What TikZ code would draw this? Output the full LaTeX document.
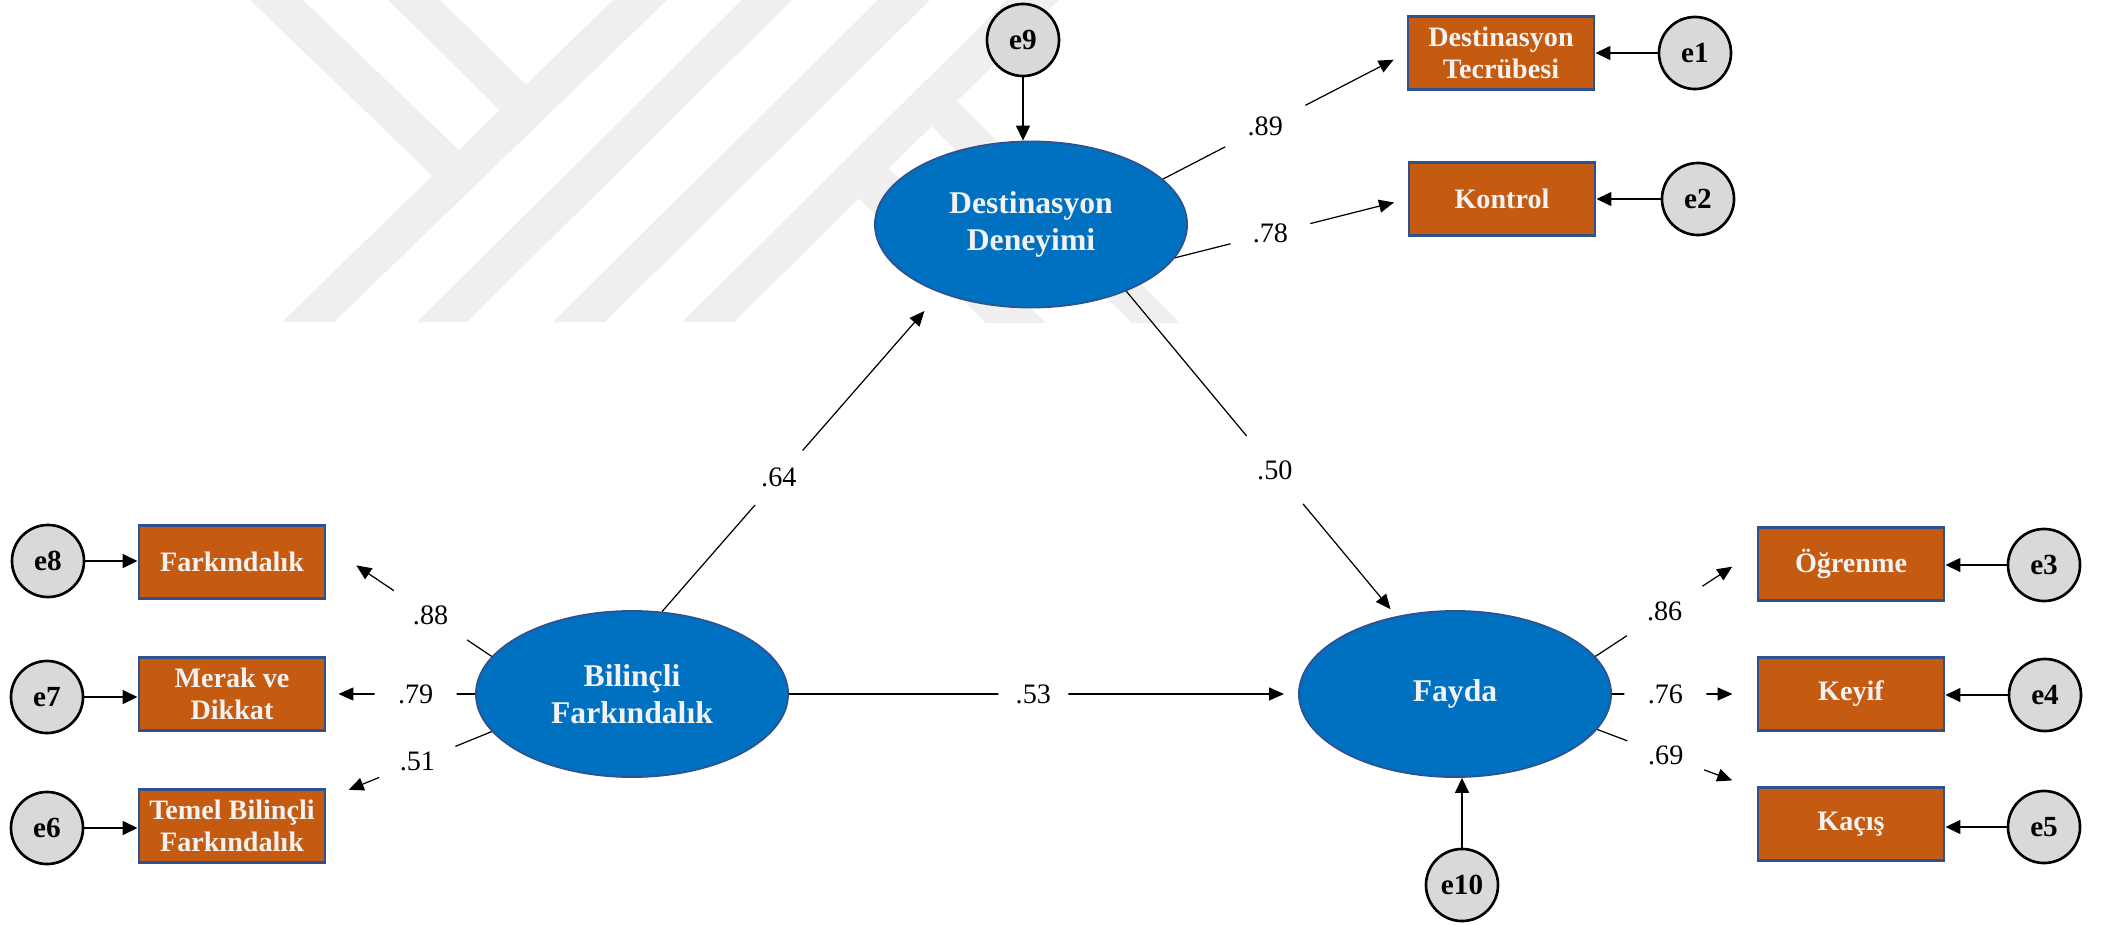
\documentclass[tikz,border=0pt]{standalone}
\usepackage{fontspec}
\setmainfont{Liberation Serif}
\usetikzlibrary{arrows.meta,shapes.geometric}

\definecolor{latentblue}{HTML}{0070C0}
\definecolor{latentedge}{HTML}{2F528F}
\definecolor{boxorange}{HTML}{C55A11}
\definecolor{boxedge}{HTML}{2F528F}
\definecolor{errgray}{HTML}{D9D9D9}
\definecolor{marktext}{HTML}{F2F2F2}
\definecolor{wmgray}{HTML}{EFEFEF}

\begin{document}
\begin{tikzpicture}[x=0.01cm, y=-0.01cm,
  latent/.style={ellipse, draw=latentedge, line width=0.5pt, fill=latentblue,
    minimum width=3.12cm, minimum height=1.66cm, inner sep=0pt, align=center,
    text=marktext, font=\fontsize{9}{10.5}\selectfont\bfseries},
  indicator/.style={rectangle, draw=boxedge, line width=0.8pt, fill=boxorange,
    minimum width=1.86cm, minimum height=0.73cm, inner sep=0pt, align=center,
    text=marktext, font=\fontsize{8}{9.2}\selectfont\bfseries},
  errorterm/.style={circle, draw=black, line width=0.75pt, fill=errgray,
    minimum size=0.72cm, inner sep=0pt, font=\fontsize{8.3}{9}\selectfont\bfseries},
  loading/.style={draw=black, line width=0.35pt, -{Triangle[length=0.15cm,width=0.13cm]}},
  errlink/.style={draw=black, line width=0.45pt, -{Triangle[length=0.15cm,width=0.14cm]}},
  coef/.style={circle, fill=white, minimum size=0.82cm, inner sep=0pt,
    font=\fontsize{8}{9}\selectfont},
]
\useasboundingbox (0,0) rectangle (2103,924);

% faint striped emblem in the background
\begin{scope}
  \clip (0,0) rectangle (2103,322);
  \fill[wmgray] (250,0) -- (303,0) -- (466,157) -- (442,185) -- cycle;
  \fill[wmgray] (388,0) -- (440,0) -- (542,100) -- (515,125) -- cycle;
  \fill[wmgray] (282,322) -- (334,322) -- (667,0) -- (613,0) -- cycle;
  \fill[wmgray] (417,322) -- (467,322) -- (792,0) -- (742,0) -- cycle;
  \fill[wmgray] (553,322) -- (605,322) -- (930,0) -- (878,0) -- cycle;
  \fill[wmgray] (682,322) -- (734,322) -- (1059,0) -- (1007,0) -- cycle;
  \fill[wmgray] (944,88) -- (1187,330) -- (1139,330) -- (918,113) -- cycle;
  \fill[wmgray] (880,160) -- (1053,330) -- (993,330) -- (845,185) -- cycle;
\end{scope}

% latent constructs
\node[latent] (DD) at (1031,224.5) {Destinasyon\\Deneyimi};
\node[latent] (BF) at (632,694) {Bilinçli\\Farkındalık};
\node[latent] (FY) at (1455,694) {Fayda};

% observed indicators
\node[indicator] (DT) at (1501,53) {Destinasyon\\Tecrübesi};
\node[indicator] (KO) at (1502,199) {Kontrol};
\node[indicator] (FA) at (232,562) {Farkındalık};
\node[indicator] (MD) at (232,694) {Merak ve\\Dikkat};
\node[indicator] (TB) at (232,826) {Temel Bilinçli\\Farkındalık};
\node[indicator] (OG) at (1851,564) {Öğrenme};
\node[indicator] (KE) at (1851,694) {Keyif};
\node[indicator] (KA) at (1851,824) {Kaçış};

% error terms
\node[errorterm] (e1) at (1695,53) {e1};
\node[errorterm] (e2) at (1698,199) {e2};
\node[errorterm] (e3) at (2044,565) {e3};
\node[errorterm] (e4) at (2045,695) {e4};
\node[errorterm] (e5) at (2044,827) {e5};
\node[errorterm] (e6) at (47,828) {e6};
\node[errorterm] (e7) at (47,697) {e7};
\node[errorterm] (e8) at (48,561) {e8};
\node[errorterm] (e9) at (1023,40) {e9};
\node[errorterm] (e10) at (1462,885) {e10};

% error paths
\draw[errlink] (e1.west) -- (e1.west -| DT.east);
\draw[errlink] (e2.west) -- (e2.west -| KO.east);
\draw[errlink] (e3.west) -- (e3.west -| OG.east);
\draw[errlink] (e4.west) -- (e4.west -| KE.east);
\draw[errlink] (e5.west) -- (e5.west -| KA.east);
\draw[errlink] (e6.east) -- (e6.east -| TB.west);
\draw[errlink] (e7.east) -- (e7.east -| MD.west);
\draw[errlink] (e8.east) -- (e8.east -| FA.west);
\draw[errlink] (e9.south) -- (e9.south |- DD.north);
\draw[errlink] (e10.north) -- (e10.north |- FY.south);

% structural paths
\draw[loading, shorten >=0.24cm] (BF.70) -- node[coef, minimum size=0.72cm, pos=0.42] {.64} (DD.217);
\draw[loading, shorten >=0.09cm] (DD.325) -- node[coef, minimum size=0.88cm, pos=0.55] {.50} (FY.127);
\draw[loading, shorten >=0.14cm] (BF.east) -- node[coef, minimum size=0.70cm, pos=0.48] {.53} (FY.west);

% measurement loadings
\draw[loading, shorten >=0.145cm] (DD.19) -- node[coef, minimum size=0.9cm, pos=0.42] {.89} (DT.west);
\draw[loading, shorten >=0.14cm] (DD.347) -- node[coef, pos=0.41] {.78} (KO.west);
\draw[loading, shorten >=0.36cm] (BF.165) -- node[coef, minimum size=0.88cm, pos=0.37] {.88} (FA.10);
\draw[loading, shorten >=0.12cm] (BF.west) -- node[coef, pos=0.40] {.79} (MD.east);
\draw[loading, shorten >=0.24cm] (BF.195) -- node[coef, pos=0.45] {.51} (TB.16);
\draw[loading, shorten >=0.29cm] (FY.15) -- node[coef, minimum size=0.9cm, pos=0.43] {.86} (OG.172);
\draw[loading, shorten >=0.24cm] (FY.east) -- node[coef, pos=0.37] {.76} (KE.west);
\draw[loading, shorten >=0.26cm] (FY.346) -- node[coef, pos=0.43] {.69} (KA.160);
\end{tikzpicture}
\end{document}
